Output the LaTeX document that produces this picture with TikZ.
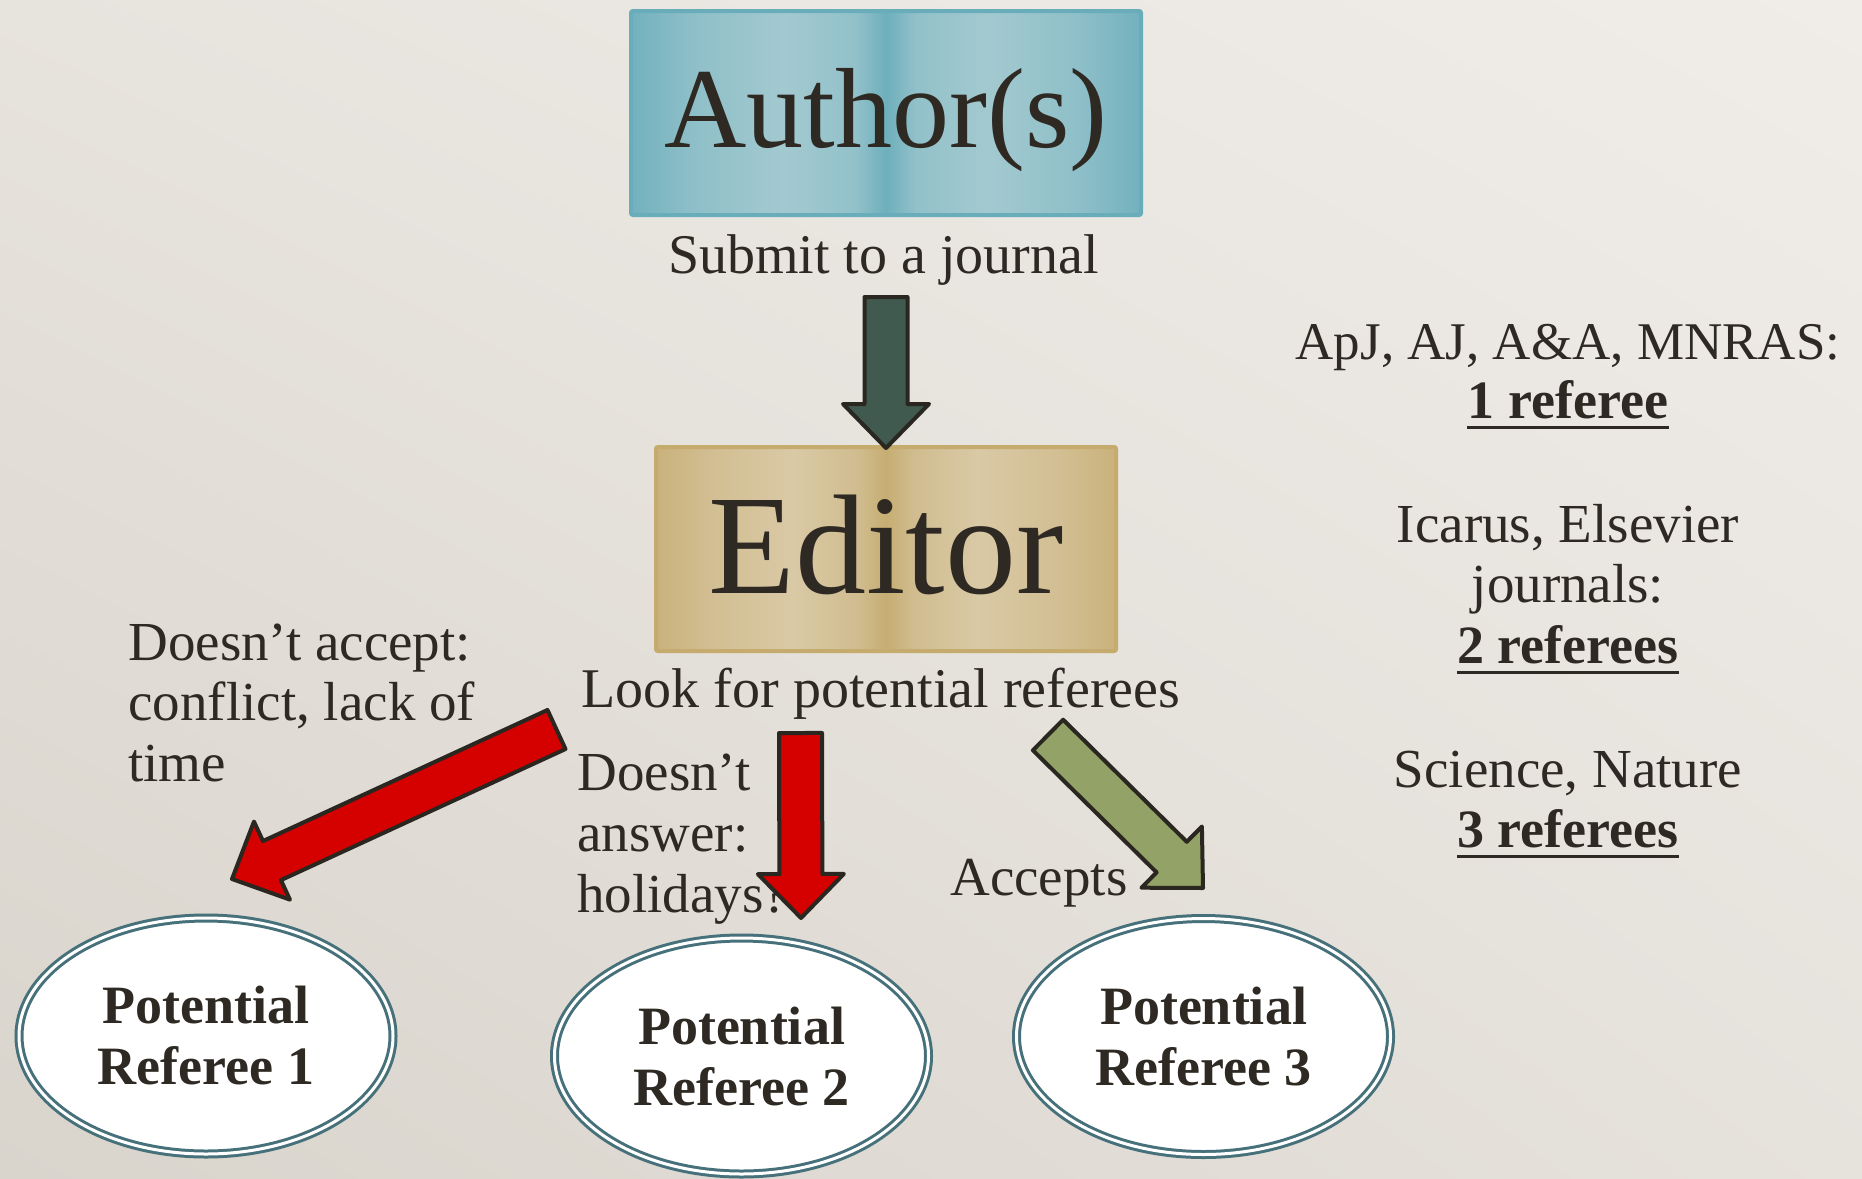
\documentclass[tikz,border=0pt]{standalone}
\usepackage{fontspec}
\setmainfont{Liberation Serif}
\usetikzlibrary{shapes.geometric,calc,shadings}

\definecolor{inkc}{HTML}{2E2A23}
\definecolor{outl}{HTML}{2A2620}
\definecolor{aEdge}{HTML}{72B1BE}
\definecolor{aL1}{HTML}{8EBFC8}
\definecolor{aL}{HTML}{A3C9D0}
\definecolor{aL2}{HTML}{92C1CA}
\definecolor{aMid}{HTML}{6EAFBC}
\definecolor{aBorder}{HTML}{6AADBA}
\definecolor{eEdge}{HTML}{C9B27B}
\definecolor{eL1}{HTML}{D2BE92}
\definecolor{eL}{HTML}{D9C9A5}
\definecolor{eL2}{HTML}{D0BC8F}
\definecolor{eMid}{HTML}{C6AD72}
\definecolor{eBorder}{HTML}{C5AB6D}
\definecolor{ellc}{HTML}{46717A}
\definecolor{darkgreen}{HTML}{405A50}
\definecolor{redf}{HTML}{D50000}
\definecolor{olive}{HTML}{93A267}
\definecolor{bgUL}{HTML}{E7E3DD}
\definecolor{bgUR}{HTML}{F0EDE9}
\definecolor{bgLL}{HTML}{D9D4CC}
\definecolor{bgLR}{HTML}{E6E2DC}

\pgfdeclarehorizontalshading{authorsh}{100bp}{color(0bp)=(aEdge); color(25bp)=(aEdge); color(31bp)=(aL1); color(40bp)=(aL); color(47bp)=(aL2); color(50bp)=(aMid); color(53bp)=(aL2); color(60bp)=(aL); color(69bp)=(aL1); color(75bp)=(aEdge); color(100bp)=(aEdge)}
\pgfdeclarehorizontalshading{editorsh}{100bp}{color(0bp)=(eEdge); color(25bp)=(eEdge); color(31bp)=(eL1); color(40bp)=(eL); color(47bp)=(eL2); color(50bp)=(eMid); color(53bp)=(eL2); color(60bp)=(eL); color(69bp)=(eL1); color(75bp)=(eEdge); color(100bp)=(eEdge)}

\newcommand{\blockarrow}[3]{%
  \coordinate (#1h) at ($(#2)!22pt!(#1)$);
  \draw[barrow, fill=#3]
    ($(#1)!10.75pt!90:(#2)$) -- ($(#1h)!10.75pt!90:(#2)$) --
    ($(#1h)!21.5pt!90:(#2)$) -- (#2) --
    ($(#1h)!21.5pt!-90:(#2)$) -- ($(#1h)!10.75pt!-90:(#2)$) --
    ($(#1)!10.75pt!-90:(#2)$) -- cycle;}

\begin{document}
\begin{tikzpicture}[x=0.5pt,y=-0.5pt,
  lbl/.style={inner sep=0pt, text=inkc, font=\fontsize{27.5pt}{30pt}\selectfont},
  bigbox/.style={rectangle, inner sep=0pt, line width=2pt, rounded corners=1pt, text=inkc},
  refell/.style={ellipse, draw=ellc, double=white, line width=1.5pt, double distance=1.5pt,
     fill=white, inner sep=0pt, minimum width=187pt, minimum height=118pt, align=center,
     text=inkc, font=\bfseries\fontsize{27pt}{30.5pt}\selectfont},
  barrow/.style={draw=outl, line width=2pt, line join=round},
  uline/.style={line width=1.5pt, draw=inkc}]
\useasboundingbox (0,0) rectangle (1862,1178);
\shade[upper left=bgUL, upper right=bgUR, lower left=bgLL, lower right=bgLR] (0,0) rectangle (1862,1178);

% boxes
\node[bigbox, shading=authorsh, draw=aBorder, minimum width=255pt, minimum height=102pt,
      font=\fontsize{57pt}{60pt}\selectfont, text height=40pt, text depth=6pt] (author) at (886,113) {Author(s)};
\node[bigbox, shading=editorsh, draw=eBorder, minimum width=230pt, minimum height=102pt,
      font=\fontsize{71pt}{74pt}\selectfont, text height=50pt, text depth=6pt] (editor) at (886,549) {Editor};

% labels
\node[lbl, anchor=base, font=\fontsize{28pt}{30pt}\selectfont] (submit) at (883.5,273) {Submit to a journal};
\node[lbl, anchor=base, font=\fontsize{28pt}{30pt}\selectfont] (look) at (881,707) {Look for potential referees};

\node[lbl, anchor=base west] (da1) at (128,660) {Doesn’t accept:};
\node[lbl, anchor=base west] (da2) at (128,720) {conflict, lack of};
\node[lbl, anchor=base west] (da3) at (128,781) {time};

\node[lbl, anchor=base west] (dn1) at (577,790) {Doesn’t};
\node[lbl, anchor=base west] (dn2) at (577,851) {answer:};
\node[lbl, anchor=base west] (dn3) at (577,912) {holidays?};

\node[lbl, anchor=base west] (acc) at (950,895) {Accepts};

% right column
\node[lbl, anchor=base, font=\fontsize{26.5pt}{30pt}\selectfont] (j1) at (1568,359) {ApJ, AJ, A\&A, MNRAS:};
\node[lbl, anchor=base, font=\bfseries\fontsize{27pt}{30pt}\selectfont] (r1) at (1568,418) {1 referee};
\node[lbl, anchor=base] (j2a) at (1568,542) {Icarus, Elsevier};
\node[lbl, anchor=base] (j2b) at (1568,602) {journals:};
\node[lbl, anchor=base, font=\bfseries\fontsize{27pt}{30pt}\selectfont] (r2) at (1568,663) {2 referees};
\node[lbl, anchor=base] (j3) at (1568,787) {Science, Nature};
\node[lbl, anchor=base, font=\bfseries\fontsize{27pt}{30pt}\selectfont] (r3) at (1568,847) {3 referees};
\foreach \n in {r1,r2,r3}
  \draw[uline] ([yshift=-4.5pt]\n.base west) -- ([yshift=-4.5pt]\n.base east);

% referee ellipses
\node[refell] (ref1) at (206,1036) {Potential\\Referee 1};
\node[refell] (ref2) at (741.5,1056) {Potential\\Referee 2};
\node[refell] (ref3) at (1203.5,1036.5) {Potential\\Referee 3};

% arrow end points
\coordinate (a0s) at (886,297);
\coordinate (a0e) at (886,448);
\coordinate (a1s) at (556.5,729.5);
\coordinate (a1e) at (232,879);
\coordinate (a2s) at (800.5,733);
\coordinate (a2e) at (801,918);
\coordinate (a3s) at (1048,735);
\coordinate (a3e) at (1203,888);

\blockarrow{a0s}{a0e}{darkgreen}
\blockarrow{a1s}{a1e}{redf}
\blockarrow{a2s}{a2e}{redf}
\blockarrow{a3s}{a3e}{olive}
\end{tikzpicture}
\end{document}
